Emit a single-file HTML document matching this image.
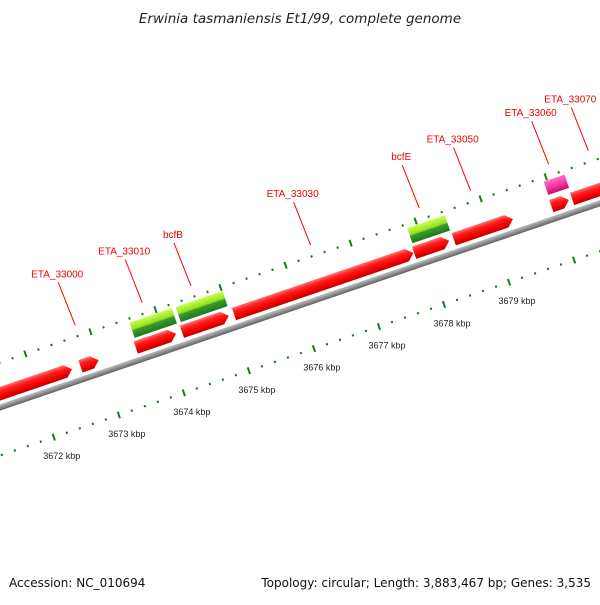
<!DOCTYPE html>
<html><head><meta charset="utf-8"><style>
body{margin:0;background:#fff;}
svg text{font-family:"Liberation Sans","DejaVu Sans",sans-serif;}
</style></head><body>
<svg id="c" width="600" height="600" viewBox="0 0 600 600" xmlns="http://www.w3.org/2000/svg">
<defs>
<linearGradient id="gRed" x1="0" y1="0" x2="0" y2="1"><stop offset="0" stop-color="#ff7070"/><stop offset="0.3" stop-color="#ff2020"/><stop offset="0.7" stop-color="#f00000"/><stop offset="1" stop-color="#c00000"/></linearGradient>
<linearGradient id="gGreen" x1="0" y1="0" x2="0" y2="1"><stop offset="0" stop-color="#c8ff50"/><stop offset="0.45" stop-color="#96e020"/><stop offset="0.55" stop-color="#3a9a2a"/><stop offset="1" stop-color="#1e7a1e"/></linearGradient>
<linearGradient id="gMag" x1="0" y1="0" x2="0" y2="1"><stop offset="0" stop-color="#ff70c8"/><stop offset="0.55" stop-color="#ff30a0"/><stop offset="1" stop-color="#c0106a"/></linearGradient>
<linearGradient id="gGray" x1="0" y1="0" x2="0" y2="1"><stop offset="0" stop-color="#c0c0c0"/><stop offset="0.5" stop-color="#909090"/><stop offset="1" stop-color="#606060"/></linearGradient>
</defs>
<text x="300" y="23" text-anchor="middle" font-size="13.5" font-style="italic" fill="#222" style="font-family:'DejaVu Sans',sans-serif">Erwinia tasmaniensis Et1/99, complete genome</text>
<text x="9" y="587" font-size="12" fill="#111" style="font-family:'DejaVu Sans',sans-serif">Accession: NC_010694</text>
<text x="591" y="587" text-anchor="end" font-size="12" fill="#111" style="font-family:'DejaVu Sans',sans-serif">Topology: circular; Length: 3,883,467 bp; Genes: 3,535</text>
<g id="track" transform="translate(104,371.5) rotate(-18.8)"></g>
<g id="labels"></g>
</svg>
<script>
// data
const redStarts = [3670.5, 3672.70, 3673.55, 3674.26, 3675.06, 3677.83, 3678.44, 3679.94, 3680.26];
const redEnds   = [3672.57, 3672.98, 3674.17, 3674.98, 3677.82, 3678.37, 3679.35, 3680.21, 3681.5];
const greenStarts = [3673.58, 3674.29, 3677.85];
const greenEnds   = [3674.23, 3675.01, 3678.43];
const magStarts = [3679.95];
const magEnds   = [3680.27];
const tickLabels = [3672, 3673, 3674, 3675, 3676, 3677, 3678, 3679];
const geneNames = ["ETA_33000","ETA_33010","bcfB","ETA_33030","bcfE","ETA_33050","ETA_33060","ETA_33070"];
const genePos   = [3672.82, 3673.85, 3674.60, 3676.44, 3678.11, 3678.90, 3680.10, 3680.71];

const NS="http://www.w3.org/2000/svg";
const track=document.getElementById('track');
const labels=document.getElementById('labels');
const K0=3673, PX=68.7;
const TH=-18.8*Math.PI/180, C=Math.cos(TH), S=Math.sin(TH);
function u(k){return (k-K0)*PX;}
function toScreen(uu,vv){return [104+uu*C - vv*S, 371.5+uu*S+vv*C];}
function mk(tag,attrs,parent){const e=document.createElementNS(NS,tag);for(const a in attrs)e.setAttribute(a,attrs[a]);parent.appendChild(e);return e;}

let bb=mk('rect',{x:-300,y:-2.5,width:1100,height:6,fill:'url(#gGray)'},track);



for(let i=3660*5;i<=3690*5;i++){
  const k=i/5, uu=u(k);
  if(uu<-250||uu>700) continue;
  const major=(i%5===0);
  for(const vc of [46,-42]){
    const len=major?7:2.2;
    const t=mk('rect',{x:uu-1,y:vc-len/2,width:2,height:len,fill:'#1a7a1a'},track);
    
    
  }
}
tickLabels.forEach(k=>{
  const p=toScreen(u(k),46);
  const t=mk('text',{x:p[0]+8,y:p[1]+22,'text-anchor':'middle','font-size':'9',fill:'#222'},labels);
  t.textContent=k+' kbp';
  
  
});

function gene(s,e,vt,vb,fill,arrow,name){
  const a=u(s),b=u(e),vm=(vt+vb)/2;
  let pts;
  if(arrow){const h=Math.min(7,(b-a)*0.4);pts=[[a,vt],[b-h,vt],[b,vm],[b-h,vb],[a,vb]];}
  else pts=[[a,vt],[b,vt],[b,vb],[a,vb]];
  const g=mk('polygon',{points:pts.map(p=>p.join(',')).join(' '),fill:fill},track);
  
  
}
redStarts.forEach((s,i)=>gene(s,redEnds[i],-19,-6,'url(#gRed)',true,'gene-red'));
greenStarts.forEach((s,i)=>gene(s,greenEnds[i],-38,-22,'url(#gGreen)',false,'gene-green'));
magStarts.forEach((s,i)=>gene(s,magEnds[i],-38,-24,'url(#gMag)',false,'gene-magenta'));

geneNames.forEach((n,i)=>{
  const p=toScreen(u(genePos[i]),-53);
  const tx=p[0]-18, ty=p[1]-52;
  const l=mk('line',{x1:tx+1,y1:ty+9,x2:p[0],y2:p[1],stroke:'#ff0000','stroke-width':1},labels);
  
  
  const t=mk('text',{x:tx,y:ty+4,'text-anchor':'middle','font-size':'10',fill:'#ee0000'},labels);
  t.textContent=n;
  
  
});
</script>
</body></html>
